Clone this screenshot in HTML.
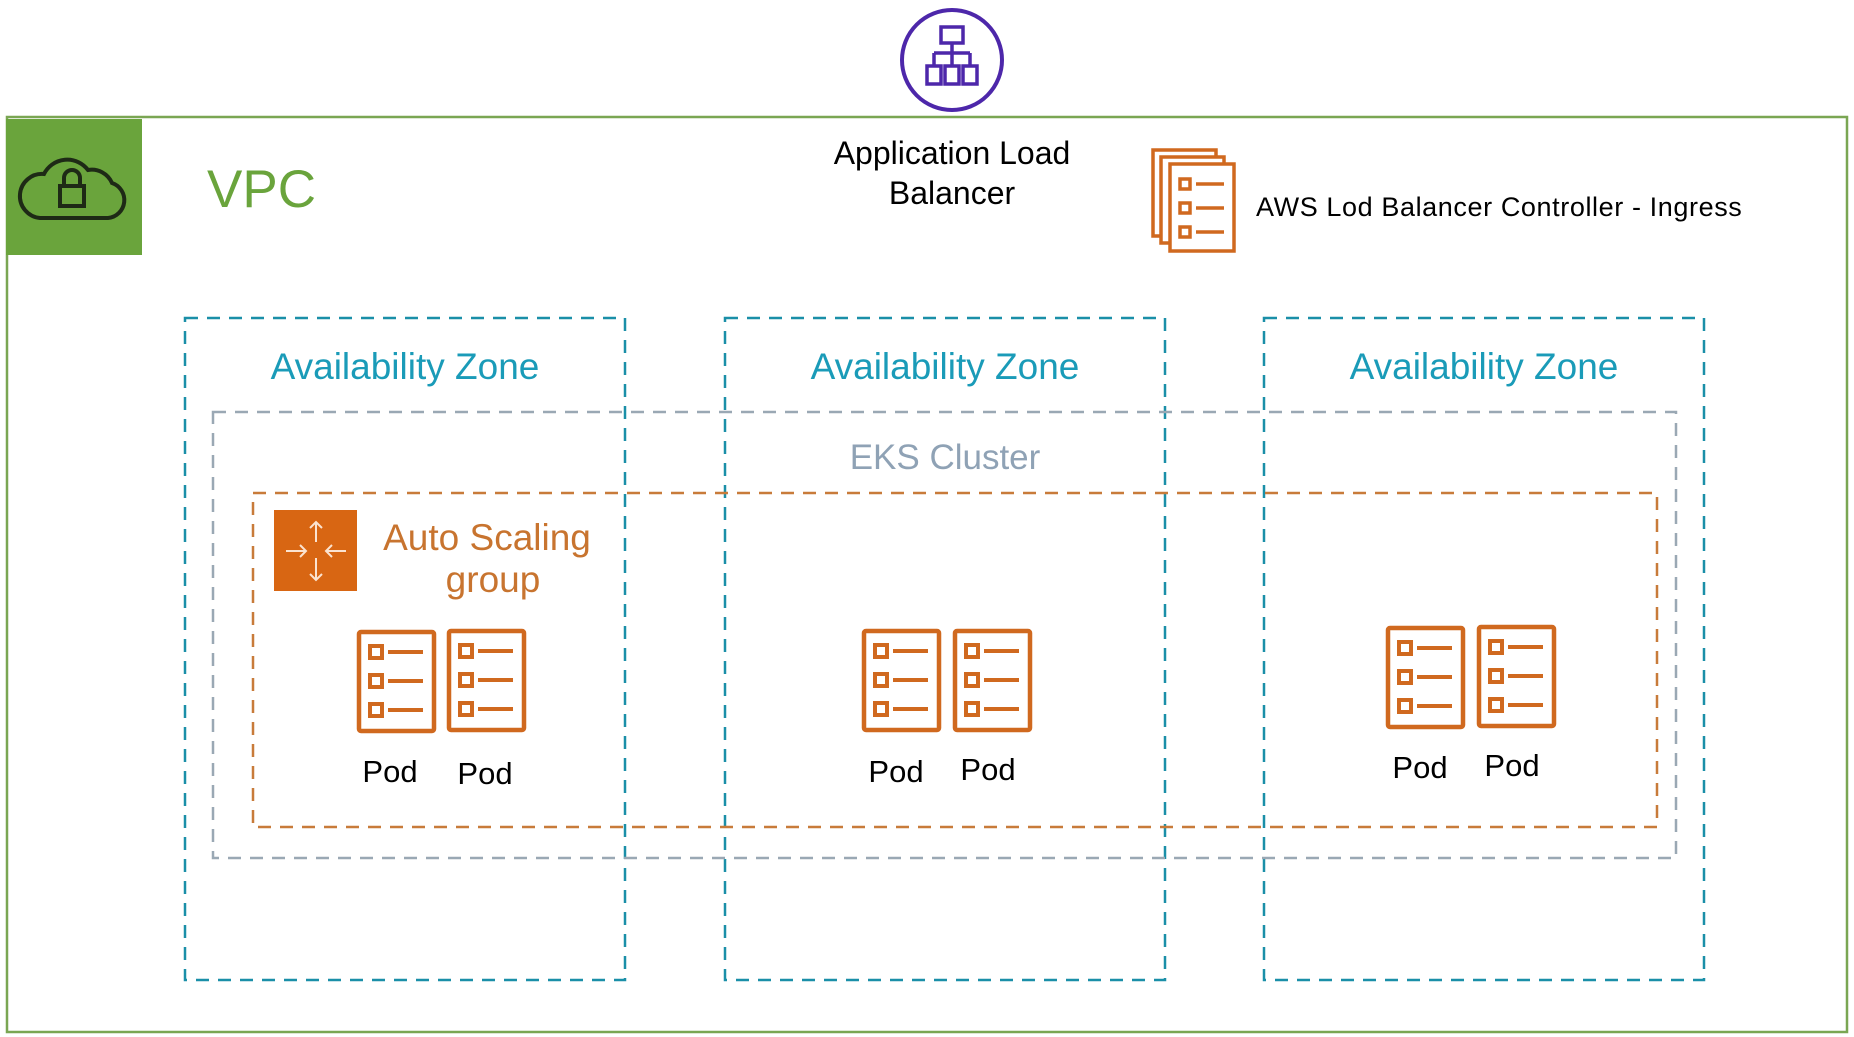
<!DOCTYPE html>
<html><head><meta charset="utf-8"><style>
html,body{margin:0;padding:0;background:#fff;}
svg{display:block;}
text{font-family:"Liberation Sans",sans-serif;}
</style></head><body>
<svg width="1854" height="1037" viewBox="0 0 1854 1037" xmlns="http://www.w3.org/2000/svg">
<defs>
<g id="pod">
<rect x="2" y="2" width="75" height="99" rx="2" fill="none" stroke="#d0691f" stroke-width="4.5"/>
<rect x="13" y="16" width="12" height="12" fill="none" stroke="#d0691f" stroke-width="4"/>
<rect x="13" y="45" width="12" height="12" fill="none" stroke="#d0691f" stroke-width="4"/>
<rect x="13" y="74" width="12" height="12" fill="none" stroke="#d0691f" stroke-width="4"/>
<line x1="31" y1="22" x2="66" y2="22" stroke="#d0691f" stroke-width="4"/>
<line x1="31" y1="51" x2="66" y2="51" stroke="#d0691f" stroke-width="4"/>
<line x1="31" y1="80" x2="66" y2="80" stroke="#d0691f" stroke-width="4"/>
</g>
</defs>
<rect x="7" y="117" width="1840" height="915" fill="none" stroke="#7aa653" stroke-width="2.5"/>
<rect x="6" y="119" width="136" height="136" fill="#6aa43c"/>
<g fill="none" stroke="#1e2a16" stroke-width="4">
<path d="M40 218 H108 A18 18 0 0 0 112 183 A22 22 0 0 0 88 170 A26 26 0 0 0 44 174 A22 22 0 0 0 40 218 Z"/>
<rect x="60" y="186" width="24" height="20"/>
<path d="M64 186 V178 A8 8 0 0 1 80 178 V186"/>
</g>
<text x="207" y="207" font-size="53" fill="#6aa43c">VPC</text>
<circle cx="952" cy="60" r="50" fill="none" stroke="#4d27aa" stroke-width="4"/>
<g fill="none" stroke="#4d27aa" stroke-width="3.5">
<rect x="941" y="27" width="22" height="16"/>
<path d="M952 43 V53 M934 53 H970 M934 53 V66 M952 53 V66 M970 53 V66"/>
<rect x="927" y="66" width="14" height="18"/><rect x="945" y="66" width="14" height="18"/><rect x="963" y="66" width="14" height="18"/>
</g>
<text x="952" y="164" font-size="32" text-anchor="middle" fill="#000">Application  Load</text>
<text x="952" y="204" font-size="32" text-anchor="middle" fill="#000">Balancer</text>
<g fill="#fff" stroke="#d0691f" stroke-width="3.5">
<rect x="1153" y="150" width="63" height="86"/>
<rect x="1161" y="157" width="63" height="86"/>
<rect x="1170" y="164" width="64" height="87"/>
</g>
<g fill="none" stroke="#d0691f" stroke-width="3.5">
<rect x="1180" y="179" width="10" height="10"/><rect x="1180" y="203" width="10" height="10"/><rect x="1180" y="227" width="10" height="10"/>
<path d="M1196 184 H1224 M1196 208 H1224 M1196 232 H1224"/>
</g>
<text x="1256" y="216" font-size="27" letter-spacing="0.6" fill="#000">AWS Lod Balancer  Controller  - Ingress</text>
<g fill="none" stroke="#1a8fa8" stroke-width="2.5" stroke-dasharray="13 9">
<rect x="185" y="318" width="440" height="662"/>
<rect x="725" y="318" width="440" height="662"/>
<rect x="1264" y="318" width="440" height="662"/>
</g>
<g font-size="37" fill="#1a9bb8" text-anchor="middle">
<text x="405" y="379">Availability Zone</text>
<text x="945" y="379">Availability Zone</text>
<text x="1484" y="379">Availability Zone</text>
</g>
<rect x="213" y="412" width="1463" height="446" fill="none" stroke="#9aa8b4" stroke-width="2.5" stroke-dasharray="13 9"/>
<text x="945" y="469" font-size="35" fill="#8fa2b5" text-anchor="middle">EKS Cluster</text>
<rect x="253" y="493" width="1404" height="334" fill="none" stroke="#c87b3a" stroke-width="2.5" stroke-dasharray="13 9"/>
<rect x="274" y="510" width="83" height="81" fill="#d86613"/>
<g stroke="#fbe3d0" stroke-width="2" fill="none">
<path d="M316 522 V542 M310 528 L316 522 L322 528"/>
<path d="M316 558 V580 M310 574 L316 580 L322 574"/>
<path d="M286 551 H306 M300 545 L306 551 L300 557"/>
<path d="M346 551 H326 M332 545 L326 551 L332 557"/>
</g>
<text x="487" y="550" font-size="37" fill="#c8742f" text-anchor="middle">Auto Scaling</text>
<text x="493" y="592" font-size="37" fill="#c8742f" text-anchor="middle">group</text>
<use href="#pod" x="357" y="630"/><use href="#pod" x="447" y="629"/>
<use href="#pod" x="862" y="629"/><use href="#pod" x="953" y="629"/>
<use href="#pod" x="1386" y="626"/><use href="#pod" x="1477" y="625"/>
<g font-size="31" fill="#000" text-anchor="middle">
<text x="390" y="782">Pod</text><text x="485" y="784">Pod</text>
<text x="896" y="782">Pod</text><text x="988" y="780">Pod</text>
<text x="1420" y="778">Pod</text><text x="1512" y="776">Pod</text>
</g>
</svg>
</body></html>
